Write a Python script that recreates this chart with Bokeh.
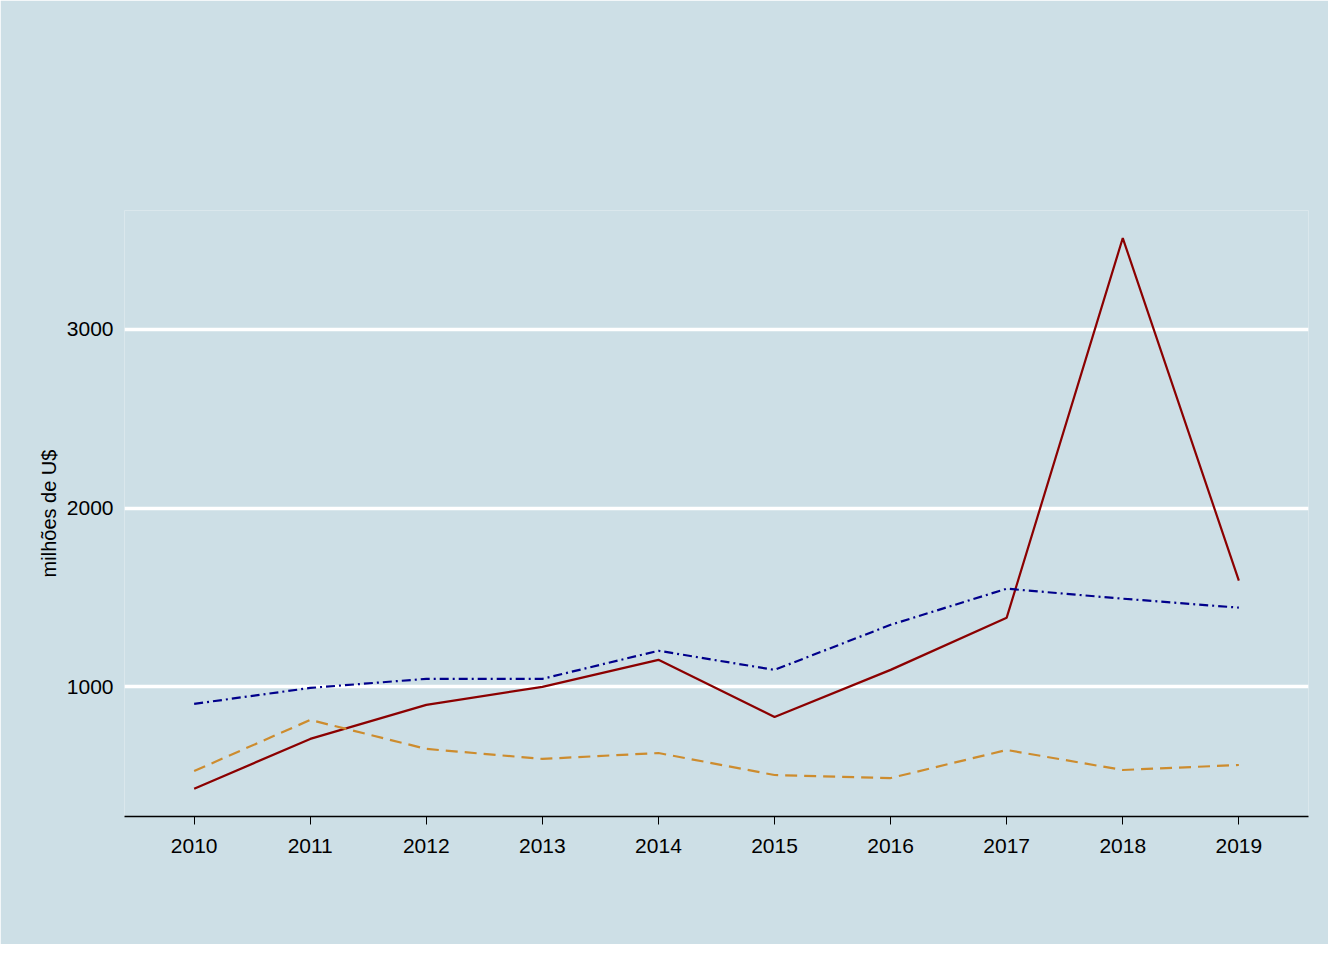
from bokeh.plotting import figure
from bokeh.embed import file_html
from bokeh.resources import INLINE
from bokeh.models import Legend, LegendItem, FixedTicker, Range1d, Label

anos = [2010, 2011, 2012, 2013, 2014, 2015, 2016, 2017, 2018, 2019]
china = [430, 709, 899, 1000, 1151, 832, 1095, 1387, 3510, 1594]
eua = [905, 994, 1045, 1045, 1202, 1095, 1347, 1549, 1493, 1443]
japao = [529, 815, 653, 597, 630, 507, 490, 647, 535, 563]

bg = "#cddfe6"
fonte = "Liberation Sans"

p = figure(width=1328, height=944, output_backend="svg", toolbar_location=None,
           x_range=Range1d(2009.4, 2019.6), y_range=Range1d(275, 3664),
           min_border_left=124, min_border_right=20,
           min_border_top=210, min_border_bottom=128)
p.background_fill_color = bg
p.border_fill_color = bg
p.outline_line_color = None

r1 = p.line(anos, china, line_color="#8b0000", line_width=2.2)
r2 = p.line(anos, eua, line_color="#00008b", line_width=2.2, line_dash="9 4 2 4")
r3 = p.line(anos, japao, line_color="#cd8c2e", line_width=2.2, line_dash="12 7")

p.xgrid.grid_line_color = None
p.ygrid.grid_line_color = "white"
p.ygrid.grid_line_width = 3.5
p.ygrid.ticker = FixedTicker(ticks=[1000, 2000, 3000])

p.xaxis.ticker = FixedTicker(ticks=anos)
p.xaxis.axis_line_color = "black"
p.xaxis.axis_line_width = 1.5
p.xaxis.major_tick_line_color = "black"
p.xaxis.major_tick_in = 0
p.xaxis.major_tick_out = 8
p.xaxis.minor_tick_line_color = None
p.xaxis.major_label_text_font = fonte
p.xaxis.major_label_text_font_size = "21px"
p.xaxis.major_label_text_color = "black"
p.xaxis.major_label_standoff = 14

p.yaxis.ticker = FixedTicker(ticks=[1000, 2000, 3000])
p.yaxis.axis_line_color = None
p.yaxis.major_tick_line_color = None
p.yaxis.minor_tick_line_color = None
p.yaxis.major_label_text_font = fonte
p.yaxis.major_label_text_font_size = "21px"
p.yaxis.major_label_text_color = "black"
p.yaxis.axis_label = "milhões de U$"
p.yaxis.axis_label_text_font = fonte
p.yaxis.axis_label_text_font_size = "20px"
p.yaxis.axis_label_text_font_style = "normal"
p.yaxis.axis_label_text_color = "black"
p.yaxis.axis_label_standoff = 4

legend = Legend(items=[LegendItem(label="China", renderers=[r1]),
                       LegendItem(label="Estados Unidos", renderers=[r2]),
                       LegendItem(label="Japão", renderers=[r3])],
                orientation="horizontal", location=(292, 628),
                label_text_font=fonte, label_text_font_size="31px",
                label_text_color="black", padding=0,
                background_fill_alpha=0, border_line_color=None,
                glyph_width=40, spacing=14, label_standoff=14)
p.add_layout(legend)

p.add_layout(Label(x=2009.4, y=4502, text="Exportações de Santa Catarina para China, EUA e Japão",
                   text_font=fonte, text_font_size="38px", text_font_style="bold",
                   text_color="black", text_baseline="alphabetic"))
p.add_layout(Label(x=2009.4, y=4363, text="de 2010 a 2019", text_font=fonte,
                   text_font_size="22px", text_color="black", text_baseline="alphabetic"))
p.add_layout(Label(x=2011.36, y=3977, text="pais", text_font=fonte,
                   text_font_size="22px", text_color="black", text_baseline="alphabetic"))
p.add_layout(Label(x=2019.6, y=-279, text="Fonte: Comexstat. Elaboração Própria",
                   text_font=fonte, text_font_size="18px", text_color="black",
                   text_align="right", text_baseline="alphabetic"))

open("out.html", "w").write(file_html(p, INLINE))
